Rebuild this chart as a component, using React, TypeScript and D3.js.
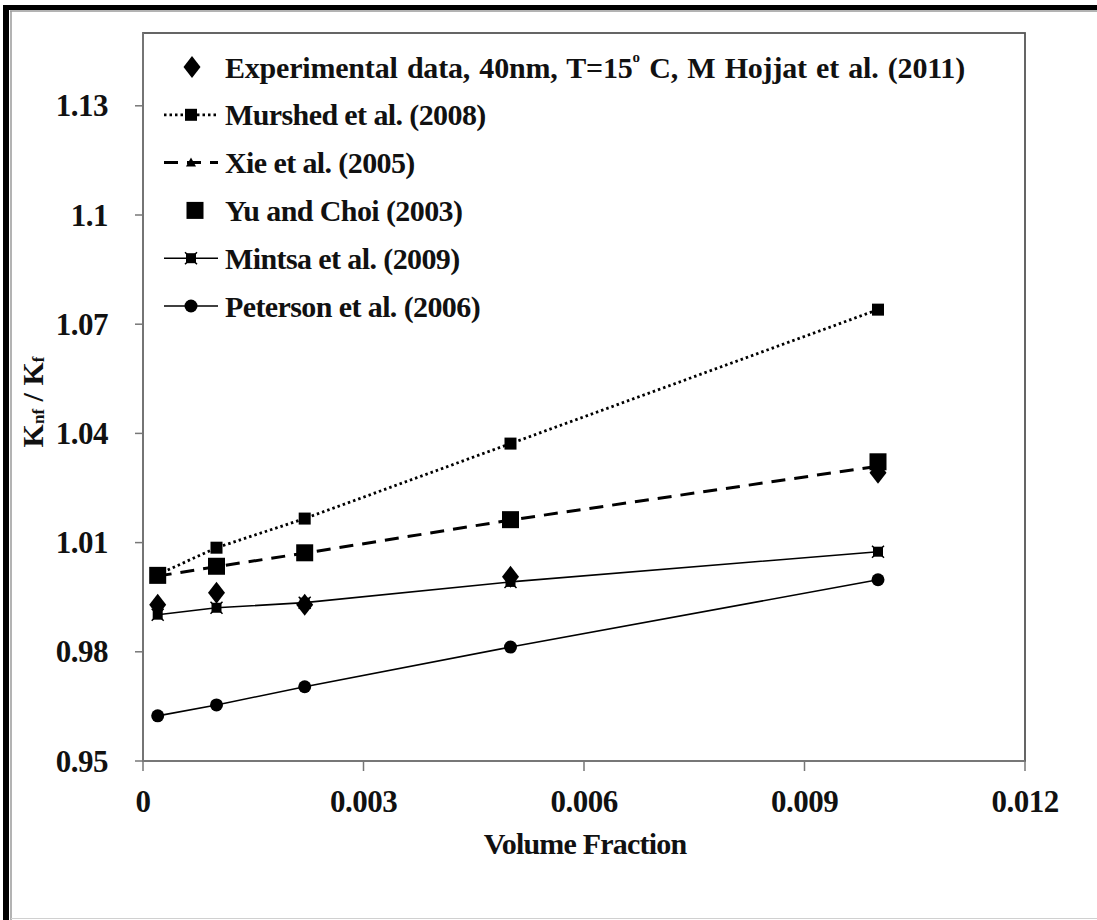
import React from "react";
import * as d3 from "d3";

const volumeFraction = [0.0002, 0.001, 0.0022, 0.005, 0.01];
const experimental = [0.9929, 0.9962, 0.9929, 1.0006, 1.0292];
const murshed = [1.0012, 1.0086, 1.0166, 1.0372, 1.074];
const xie = [1.0008, 1.0034, 1.0071, 1.0162, 1.031];
const yuChoi = [1.001, 1.0035, 1.0072, 1.0163, 1.0322];
const mintsa = [0.9902, 0.9921, 0.9935, 0.9992, 1.0075];
const peterson = [0.9624, 0.9654, 0.9704, 0.9813, 0.9998];

const yTicks = [0.95, 0.98, 1.01, 1.04, 1.07, 1.1, 1.13];
const xTicks = [0, 0.003, 0.006, 0.009, 0.012];
const yTickLabels = ["0.95", "0.98", "1.01", "1.04", "1.07", "1.1", "1.13"];
const xTickLabels = ["0", "0.003", "0.006", "0.009", "0.012"];

const legendNames = [
  "Experimental data, 40nm, T=15",
  "Murshed et al. (2008)",
  "Xie et al. (2005)",
  "Yu and Choi (2003)",
  "Mintsa et al. (2009)",
  "Peterson et al. (2006)",
];

const FONT = "'Liberation Serif', 'Times New Roman', serif";

type Kind = "diamond" | "smallSquare" | "triangle" | "bigSquare" | "star" | "circle";

function Marker({ kind, x, y }: { kind: Kind; x: number; y: number }) {
  switch (kind) {
    case "diamond":
      return <path d={`M${x},${y - 11} L${x + 8.5},${y} L${x},${y + 11} L${x - 8.5},${y} Z`} fill="#000" />;
    case "smallSquare":
      return <rect x={x - 6} y={y - 6} width={12} height={12} fill="#000" />;
    case "bigSquare":
      return <rect x={x - 8.5} y={y - 8.5} width={17} height={17} fill="#000" />;
    case "triangle":
      return <path d={`M${x},${y - 5} L${x + 5},${y + 4} L${x - 5},${y + 4} Z`} fill="#000" />;
    case "star":
      return (
        <g>
          <rect x={x - 5} y={y - 5} width={10} height={10} fill="#000" />
          <path d={`M${x - 6},${y - 6} L${x + 6},${y + 6} M${x + 6},${y - 6} L${x - 6},${y + 6}`} stroke="#000" strokeWidth={1.5} />
        </g>
      );
    case "circle":
      return <circle cx={x} cy={y} r={6.5} fill="#000" />;
  }
}

export default function App() {
  const W = 1097;
  const H = 920;
  const x = d3.scaleLinear().domain([0, 0.012]).range([143, 1025]);
  const y = d3.scaleLinear().domain([0.95, 1.15]).range([761, 33]);

  const series: { vals: number[]; kind: Kind; dash: string | null; width: number }[] = [
    { vals: experimental, kind: "diamond", dash: null, width: 0 },
    { vals: murshed, kind: "smallSquare", dash: "2.5 3", width: 2.8 },
    { vals: xie, kind: "triangle", dash: "14 9", width: 3 },
    { vals: yuChoi, kind: "bigSquare", dash: null, width: 0 },
    { vals: mintsa, kind: "star", dash: "", width: 1.6 },
    { vals: peterson, kind: "circle", dash: "", width: 1.6 },
  ];

  const line = d3
    .line<number>()
    .x((_, i) => x(volumeFraction[i]))
    .y((d) => y(d));

  const legendRowY = (i: number) => 67 + i * 47.8;

  return (
    <svg
      width={W}
      height={H}
      style={{ position: "absolute", left: 0, top: 0, background: "#fff" }}
      fontFamily={FONT}
    >
      <rect x={0} y={0} width={W} height={H} fill="#fff" />
      {/* outer frame */}
      <rect x={3} y={5} width={W - 3} height={5} fill="#000" />
      <rect x={3} y={5} width={6} height={H - 5} fill="#000" />
      <line x1={10} y1={11} x2={W} y2={11} stroke="#9a9a9a" strokeWidth={1.5} />
      <line x1={11} y1={11} x2={11} y2={H} stroke="#9a9a9a" strokeWidth={1.5} />
      <line x1={11} y1={918.5} x2={W} y2={918.5} stroke="#d0d0d0" strokeWidth={1} />

      {/* plot area border */}
      <rect x={143} y={33} width={882} height={728} fill="none" stroke="#555" strokeWidth={1.8} />

      {/* y axis ticks */}
      {yTicks.map((t, i) => (
        <g key={"y" + i}>
          <line x1={135} x2={143} y1={y(t)} y2={y(t)} stroke="#777" strokeWidth={1.5} />
          <text
            x={108}
            y={y(t)}
            textAnchor="end"
            dominantBaseline="central"
            fontSize={31}
            fontWeight="bold"
            letterSpacing={-0.5}
            fill="#111"
          >
            {yTickLabels[i]}
          </text>
        </g>
      ))}
      {/* x axis ticks */}
      {xTicks.map((t, i) => (
        <g key={"x" + i}>
          <line x1={x(t)} x2={x(t)} y1={761} y2={771} stroke="#777" strokeWidth={1.5} />
          <text
            x={x(t)}
            y={801}
            textAnchor="middle"
            dominantBaseline="central"
            fontSize={31}
            fontWeight="bold"
            letterSpacing={-0.5}
            fill="#111"
          >
            {xTickLabels[i]}
          </text>
        </g>
      ))}
      <line x1={143} x2={1025} y1={761} y2={761} stroke="#777" strokeWidth={1.8} />
      <line x1={143} x2={143} y1={33} y2={761} stroke="#777" strokeWidth={1.8} />

      {/* axis titles */}
      <text
        x={585}
        y={843}
        textAnchor="middle"
        dominantBaseline="central"
        fontSize={30}
        fontWeight="bold"
        letterSpacing={-0.8}
        fill="#111"
      >
        Volume Fraction
      </text>
      <text
        transform="translate(32,402) rotate(-90)"
        textAnchor="middle"
        dominantBaseline="central"
        fontSize={30}
        fontWeight="bold"
        fill="#111"
      >
        K<tspan fontSize={17} dy={6}>nf</tspan>
        <tspan dy={-6}> / K</tspan>
        <tspan fontSize={17} dy={6}>f</tspan>
      </text>

      {/* series */}
      {series.map((s, si) => (
        <g key={"s" + si}>
          {s.width > 0 && (
            <path
              d={line(s.vals) || ""}
              fill="none"
              stroke="#000"
              strokeWidth={s.width}
              strokeDasharray={s.dash || undefined}
            />
          )}
          {s.vals.map((v, i) => (
            <Marker key={i} kind={s.kind} x={x(volumeFraction[i])} y={y(v)} />
          ))}
        </g>
      ))}

      {/* legend */}
      {series.map((s, i) => {
        const ly = legendRowY(i);
        return (
          <g key={"l" + i}>
            {s.width > 0 && (
              <line
                x1={164}
                x2={218}
                y1={ly}
                y2={ly}
                stroke="#000"
                strokeWidth={s.width}
                strokeDasharray={s.dash || undefined}
              />
            )}
            <Marker kind={s.kind} x={i === 0 ? 192 : i === 3 ? 195 : 191} y={ly} />
            <text
              x={225}
              y={ly}
              dominantBaseline="central"
              fontSize={30}
              fontWeight="bold"
              letterSpacing={i === 0 ? -0.2 : -0.6}
              wordSpacing={i === 0 ? 2 : 0}
              fill="#111"
            >
              {i === 0 ? (
                <>
                  {legendNames[0]}
                  <tspan fontSize={15} dy={-10}>o</tspan>
                  <tspan dy={10}> C, M Hojjat et al. (2011)</tspan>
                </>
              ) : (
                legendNames[i]
              )}
            </text>
          </g>
        );
      })}
    </svg>
  );
}
